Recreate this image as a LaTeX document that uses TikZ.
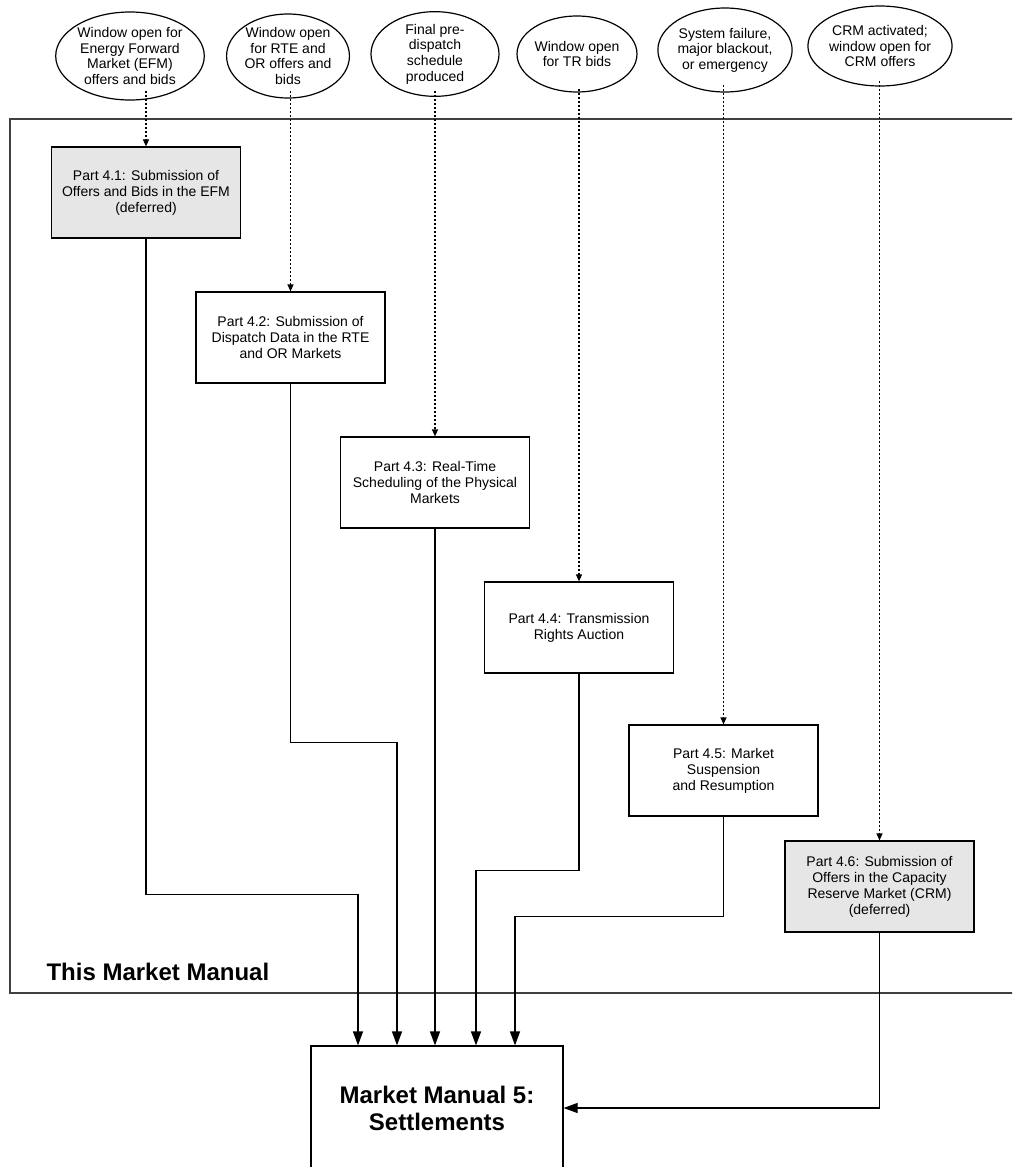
\documentclass[tikz,border=0pt]{standalone}
\usepackage{fontspec}
\setmainfont{Liberation Sans}
\usepackage{tikz}
\usepackage{xcolor}
\usetikzlibrary{shapes.geometric}
\usetikzlibrary{positioning}
\usetikzlibrary{arrows.meta}
\definecolor{deferredgray}{HTML}{E6E6E6}
\tikzstyle{event} = [ellipse, draw=black, line width=1.2pt, inner sep=0pt, align=center, font=\fontsize{14}{15.6}\selectfont]
\tikzstyle{process} = [rectangle, minimum width=189pt, minimum height=91pt, text centered, align=center, draw=black, line width=1.2pt, font=\fontsize{14}{16}\selectfont]
\tikzstyle{deferred} = [process, fill=deferredgray]
\tikzstyle{target} = [rectangle, minimum width=252pt, minimum height=124pt, text centered, align=center, draw=black, line width=1.2pt, font=\bfseries\fontsize{24}{27}\selectfont]
\tikzstyle{arrow} = [line width=1.2pt,-{Triangle[length=14pt,width=10pt]}]
\tikzstyle{trigger} = [line width=1.2pt,dash pattern=on 2pt off 2pt,-{Triangle[length=7pt,width=6pt]}]

\begin{document}
\begin{tikzpicture}[x=1pt, y=-1pt, node distance=145pt]
        \useasboundingbox (0,0) rectangle (1012,1167);
        \clip (0,0) rectangle (1012,1167);
        \draw [black!75, line width=1.2pt] (10,119) rectangle (1040,993);
        \node (thisManual) [anchor=base west, font=\bfseries\fontsize{24}{27}\selectfont] at (43,980) {This Market Manual};

        \node (winEFM) [event, minimum width=142pt, minimum height=88pt] at (130,56) {Window open for\\Energy Forward\\Market (EFM)\\offers and bids};
        \node (winRTE) [event, minimum width=116pt, minimum height=84pt] at (288,56) {Window open\\for RTE and\\OR offers and\\bids};
        \node (preDispatch) [event, minimum width=128pt, minimum height=80pt] at (435,54) {Final pre-\\dispatch\\schedule\\produced};
        \node (winTR) [event, minimum width=118pt, minimum height=76pt] at (577,54) {Window open\\for TR bids};
        \node (sysFailure) [event, minimum width=126pt, minimum height=84pt] at (725,50) {System failure,\\major blackout,\\or emergency};
        \node (crmActive) [event, minimum width=136pt, minimum height=80pt] at (880,46) {CRM activated;\\window open for\\CRM offers};

        \node (submitEFM) [deferred] at (146,192.5) {Part 4.1: Submission of\\Offers and Bids in the EFM\\(deferred)};
        \node (submitRTE) [process, below of=submitEFM, xshift=144.5pt] {Part 4.2: Submission of\\Dispatch Data in the RTE\\and OR Markets};
        \node (realTime) [process, below of=submitRTE, xshift=144.5pt] {Part 4.3: Real-Time\\Scheduling of the Physical\\Markets};
        \node (trAuction) [process, below of=realTime, xshift=144pt] {Part 4.4: Transmission\\Rights Auction};
        \node (suspension) [process, below of=trAuction, xshift=144.5pt, yshift=2pt] {Part 4.5: Market\\Suspension\\and Resumption};
        \node (submitCRM) [deferred, below of=suspension, xshift=156pt, yshift=29pt] {Part 4.6: Submission of\\Offers in the Capacity\\Reserve Market (CRM)\\(deferred)};
        \node (settlements) [target] at (437,1108) {Market Manual 5:\\Settlements};

        \draw [trigger] ([yshift=10pt]submitEFM.north |- winEFM.south) -- (submitEFM.north);
        \draw [trigger] ([yshift=8pt]submitRTE.north |- winRTE.south) -- (submitRTE.north);
        \draw [trigger] ([yshift=6pt]realTime.north |- preDispatch.south) -- (realTime.north);
        \draw [trigger] ([yshift=4pt]trAuction.north |- winTR.south) -- (trAuction.north);
        \draw [trigger] ([yshift=8pt]suspension.north |- sysFailure.south) -- (suspension.north);
        \draw [trigger] ([yshift=6pt]submitCRM.north |- crmActive.south) -- (submitCRM.north);

        \draw [arrow] (submitEFM.south) -- +(0,656) -| ([xshift=-79pt]settlements.north);
        \draw [arrow] (submitRTE.south) -- +(0,359) -| ([xshift=-40pt]settlements.north);
        \draw [arrow] (realTime.south) -- (realTime.south |- settlements.north);
        \draw [arrow] (trAuction.south) -- +(0,197) -| ([xshift=39pt]settlements.north);
        \draw [arrow] (suspension.south) -- +(0,100) -| ([xshift=78pt]settlements.north);
        \draw [arrow] (submitCRM.south) |- (settlements.east);
    \end{tikzpicture}
\end{document}
